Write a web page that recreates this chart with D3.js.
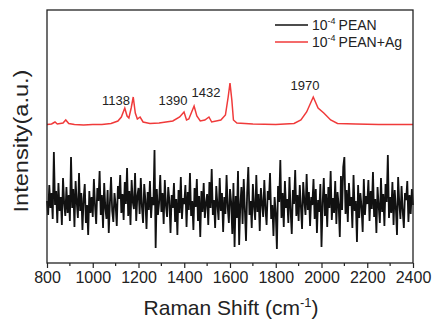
<!DOCTYPE html>
<html>
<head>
<meta charset="utf-8">
<script src="https://cdn.jsdelivr.net/npm/d3@7"></script>
<style>
  body { margin: 0; background: #fff; }
  svg text { font-family: "Liberation Sans", Arial, sans-serif; fill: #222; }
</style>
</head>
<body>
<div id="chart"></div>
<script>
// black spectrum (10^-4 PEAN), 800..2400 cm-1 every 5 cm-1
const x_start = 800;
const x_step = 5;
const pean_values = [
  62, 48, 78, 55, 70, 44, 111, 58, 72, 40, 80, 52, 66, 38, 85, 60, 47, 76, 50, 68,
  42, 106, 55, 74, 36, 82, 61, 45, 90, 52, 70, 33, 64, 79, 40, 58, 28, 72, 50, 66,
  46, 84, 57, 39, 75, 62, 92, 48, 68, 35, 80, 55, 44, 73, 30, 60, 86, 52, 41, 70,
  58, 37, 77, 64, 88, 50, 69, 43, 81, 59, 95, 47, 72, 38, 83, 61, 54, 90, 42, 67,
  75, 49, 85, 56, 40, 79, 63, 34, 71, 53, 82, 45, 66, 58, 113, 15, 74, 48, 60, 88,
  51, 70, 39, 83, 57, 46, 76, 62, 30, 68, 55, 80, 41, 64, 28, 73, 50, 86, 44, 65,
  59, 78, 36, 71, 53, 90, 47, 62, 33, 75, 56, 84, 42, 67, 26, 72, 51, 80, 45, 60,
  69, 38, 81, 55, 94, 48, 63, 35, 77, 58, 43, 85, 52, 70, 31, 66, 49, 88, 56, 40,
  74, 61, 29, 80, 16, 67, 45, 92, 18, 58, 76, 39, 84, 53, 22, 70, 96, 48, 62, 35,
  79, 57, 43, 88, 51, 69, 32, 75, 60, 46, 83, 54, 38, 72, 63, 90, 44, 58, 27, 66,
  50, 14, 77, 61, 103, 45, 70, 36, 82, 55, 64, 40, 86, 52, 29, 73, 59, 93, 47, 68,
  42, 78, 56, 34, 81, 62, 48, 89, 53, 71, 37, 66, 58, 84, 44, 74, 30, 63, 51, 79,
  16, 60, 85, 47, 69, 36, 76, 55, 92, 43, 65, 50, 82, 39, 71, 58, 26, 87, 53, 96,
  106, 49, 73, 41, 80, 57, 66, 35, 88, 52, 62, 21, 78, 45, 70, 56, 31, 84, 48, 67,
  59, 83, 42, 72, 54, 91, 46, 64, 30, 76, 57, 40, 85, 51, 69, 37, 79, 61, 108, 45,
  66, 50, 81, 38, 73, 55, 28, 86, 60, 44, 77, 52, 35, 70, 63, 82, 41, 68, 49, 74,
  58
];

// red spectrum (10^-4 PEAN+Ag)
const ag_shift = [800, 820, 835, 845, 870, 882, 895, 920, 960, 1000, 1040, 1080, 1110, 1125, 1140, 1150, 1158, 1168, 1177, 1186, 1195, 1207, 1220, 1250, 1290, 1320, 1350, 1380, 1399, 1410, 1420, 1443, 1455, 1470, 1490, 1508, 1520, 1560, 1580, 1592, 1600, 1608, 1615, 1630, 1700, 1800, 1880, 1910, 1935, 1964, 1985, 2010, 2040, 2070, 2150, 2250, 2400];
const ag_values = [138.5, 139, 141, 139, 140, 143, 139.5, 138.5, 138, 138.5, 138.5, 139.5, 142, 146, 155, 147, 145, 155, 166, 150, 144, 146, 141, 139.5, 140, 141, 142, 146, 151, 143, 144, 157, 147, 142, 143, 146, 141, 143, 148, 166, 180, 163, 143, 140, 139, 138.5, 139.5, 143, 151, 166, 155, 150, 143, 139.5, 139, 138.5, 138.5];

// peak annotations (label centre in cm-1, baseline in a.u.)
const peak_labels = ["1138", "1390", "1432", "1970"];
const peak_label_x = [1102, 1351, 1495, 1928];
const peak_label_y = [158, 158, 166, 173];

const x_ticks = d3.range(800, 2401, 200);
const x_minor = d3.range(900, 2400, 200);

const legend_labels = ["PEAN", "PEAN+Ag"];
const legend_colors = ["#111", "#f03a3a"];

const width = 433, height = 319;
const margin = {top: 10, right: 20, bottom: 56, left: 47};

const svg = d3.select("#chart").append("svg")
  .attr("width", width)
  .attr("height", height);

const x = d3.scaleLinear().domain([800, 2400]).range([margin.left, width - margin.right]);
const y = d3.scaleLinear().domain([0, 253]).range([height - margin.bottom, margin.top]);

const pean = pean_values.map((v, i) => [x_start + i * x_step, v]);
const ag = ag_shift.map((s, i) => [s, ag_values[i]]);

const line = d3.line().x(d => x(d[0])).y(d => y(d[1]));

svg.append("path")
  .datum(pean)
  .attr("d", line)
  .attr("fill", "none")
  .attr("stroke", legend_colors[0])
  .attr("stroke-width", 1.8)
  .attr("stroke-linejoin", "miter");

svg.append("path")
  .datum(ag)
  .attr("d", line)
  .attr("fill", "none")
  .attr("stroke", legend_colors[1])
  .attr("stroke-width", 1.5);

// frame
svg.append("rect")
  .attr("x", x(800)).attr("y", margin.top)
  .attr("width", x(2400) - x(800)).attr("height", y(0) - margin.top)
  .attr("fill", "none").attr("stroke", "#222").attr("stroke-width", 1.3);

// x axis
const xAxis = svg.append("g")
  .attr("transform", `translate(0,${y(0)})`)
  .call(d3.axisBottom(x).tickValues(x_ticks).tickSize(5).tickPadding(3.5).tickFormat(d3.format("d")));
xAxis.select(".domain").remove();
xAxis.selectAll("line").attr("stroke", "#222").attr("stroke-width", 1.2);
xAxis.selectAll("text").style("font-size", "16px").attr("fill", "#222");

svg.append("g")
  .attr("transform", `translate(0,${y(0)})`)
  .selectAll("line")
  .data(x_minor).enter()
  .append("line")
  .attr("x1", d => x(d)).attr("x2", d => x(d))
  .attr("y1", 0).attr("y2", 3)
  .attr("stroke", "#222").attr("stroke-width", 1.2);

// axis titles
const xTitle = svg.append("text")
  .attr("x", (x(800) + x(2400)) / 2 + 1)
  .attr("y", 315)
  .attr("text-anchor", "middle")
  .style("font-size", "21px");
xTitle.append("tspan").text("Raman Shift (cm");
xTitle.append("tspan").attr("dy", -8).style("font-size", "13px").text("-1");
xTitle.append("tspan").attr("dy", 8).text(")");

svg.append("text")
  .attr("transform", `translate(28,141) rotate(-90)`)
  .attr("text-anchor", "middle")
  .style("font-size", "21px")
  .attr("textLength", 143)
  .attr("lengthAdjust", "spacingAndGlyphs")
  .text("Intensity(a.u.)");

// peak labels
svg.selectAll(".peak")
  .data(peak_labels).enter()
  .append("text")
  .attr("class", "peak")
  .attr("x", (d, i) => x(peak_label_x[i]))
  .attr("y", (d, i) => y(peak_label_y[i]))
  .attr("text-anchor", "middle")
  .style("font-size", "13px")
  .text(d => d);

// legend
const legend = svg.selectAll(".legend")
  .data(legend_labels).enter()
  .append("g")
  .attr("class", "legend")
  .attr("transform", (d, i) => `translate(275,${25 + i * 17})`);

legend.append("line")
  .attr("x1", 0).attr("x2", 33)
  .attr("stroke", (d, i) => legend_colors[i])
  .attr("stroke-width", 1.5);

const legendText = legend.append("text")
  .attr("x", 37).attr("y", 5)
  .style("font-size", "14px");
legendText.append("tspan").text("10");
legendText.append("tspan").attr("dy", -6).style("font-size", "9px").text("-4");
legendText.append("tspan").attr("dy", 6).attr("dx", 3).text(d => d);
</script>
</body>
</html>
